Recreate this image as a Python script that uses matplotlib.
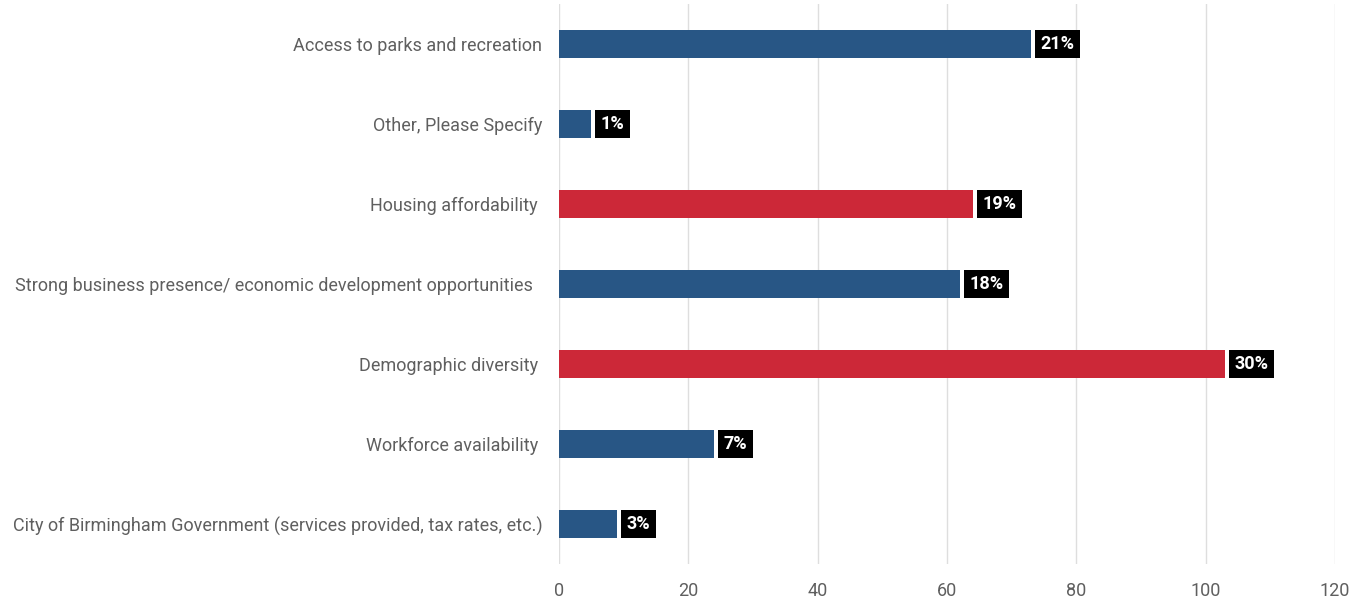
import numpy as np
import matplotlib.pyplot as plt

plt.rcParams['font.family'] = ['Roboto', 'DejaVu Sans']

# responses per factor, listed top to bottom
categories = [
    'Access to parks and recreation',
    'Other, Please Specify',
    'Housing affordability ',
    'Strong business presence/ economic development opportunities  ',
    'Demographic diversity ',
    'Workforce availability ',
    'City of Birmingham Government (services provided, tax rates, etc.)',
]
counts = [73, 5, 64, 62, 103, 24, 9]
highlight = [False, False, True, False, True, False, False]

BLUE = '#285685'
RED = '#cc2838'
TEXT = '#5f5f5f'

total = sum(counts)
pct = [round(100 * c / total) for c in counts]
colors = [RED if h else BLUE for h in highlight]

fig = plt.figure(figsize=(13.59, 6.01), dpi=100)
ax = fig.add_axes([0.4113, 0.0616, 0.5710, 0.9317])

y = np.arange(len(categories))
ax.barh(y, counts, height=0.35, color=colors, zorder=3)

for yi, c, p in zip(y, counts, pct):
    ax.text(c + 1.45, yi, f'{p}%', va='center', ha='left', color='white',
            fontsize=13, fontweight='bold', zorder=4,
            bbox=dict(boxstyle='square,pad=0.3', fc='black', ec='none'))

ax.set_yticks(y)
ax.set_yticklabels(categories)
ax.set_ylim(len(categories) - 0.5, -0.5)
ax.set_xlim(0, 120)
ax.set_xticks(range(0, 121, 20))

ax.grid(axis='x', color='#dedede', linewidth=1, zorder=0)
for s in ax.spines.values():
    s.set_visible(False)
ax.tick_params(axis='both', length=0, colors=TEXT, labelsize=13)
ax.tick_params(axis='y', pad=12)
ax.tick_params(axis='x', pad=13)

fig.savefig('out.png', dpi=100)
